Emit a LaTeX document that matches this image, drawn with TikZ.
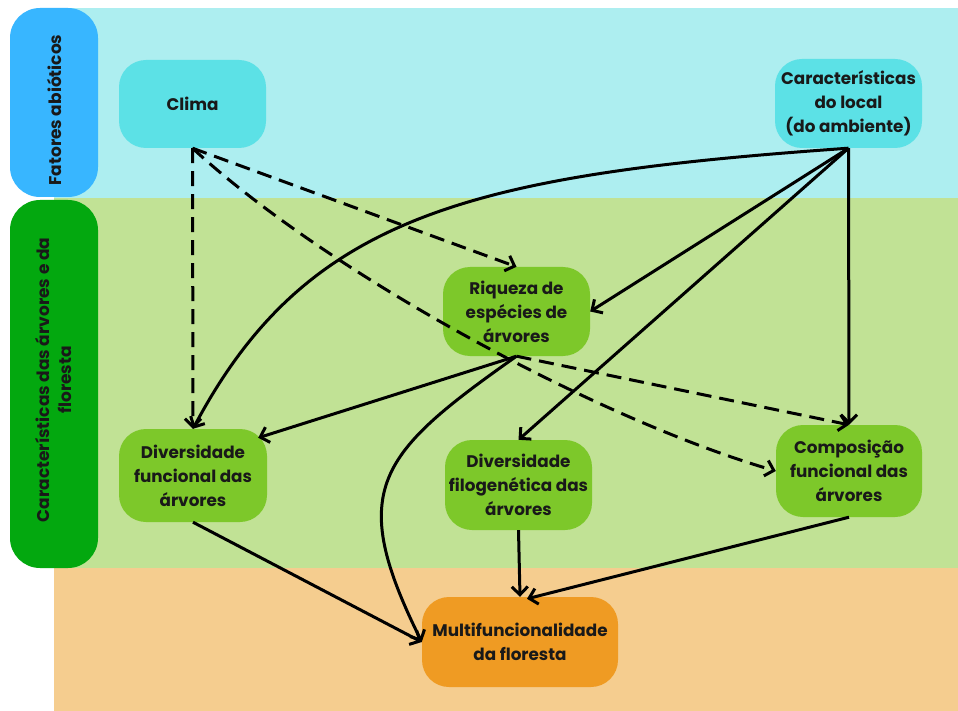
\documentclass[tikz,border=0pt]{standalone}
\usepackage{fontspec}
\setmainfont{Poppins}
\usetikzlibrary{arrows.meta,calc}
\definecolor{bandcyan}{HTML}{ADEEF0}
\definecolor{bandgreen}{HTML}{C1E295}
\definecolor{bandorange}{HTML}{F5CD8F}
\definecolor{pillblue}{HTML}{38B6FF}
\definecolor{pillgreen}{HTML}{03A80F}
\definecolor{nodecyan}{HTML}{5CE1E6}
\definecolor{nodegreen}{HTML}{7DC82A}
\definecolor{nodeorange}{HTML}{EF9B23}
\tikzset{
  box/.style={rounded corners=27pt, inner sep=0pt, align=center,
    font=\fontsize{16.8}{24}\selectfont\bfseries, text=black!90},
  cbox/.style={box, fill=nodecyan},
  gbox/.style={box, fill=nodegreen},
  obox/.style={box, fill=nodeorange},
  pill/.style={rounded corners=30pt},
  pilltext/.style={rotate=90, align=center, font=\fontsize{17}{22}\selectfont\bfseries, text=black!90},
  conn/.style={line width=3pt, -{Straight Barb[length=8pt,width=16pt]}},
  dconn/.style={conn, dash pattern=on 15pt off 8pt},
}
\begin{document}
\begin{tikzpicture}[x=1pt,y=-1pt]
\useasboundingbox (0,0) rectangle (958,711);
\fill[white] (0,0) rectangle (958,711);
% bands
\fill[bandcyan] (54,8) rectangle (958,198);
\fill[bandgreen] (54,198) rectangle (958,568);
\fill[bandorange] (54,568) rectangle (958,711);
% side pills
\fill[pillblue, pill] (10,8) rectangle (98,197);
\fill[pillgreen, pill] (10,200) rectangle (98,568);
\node[pilltext] (labA) at (54,110) {Fatores abióticos};
\node[pilltext] (labB) at (54,380) {Características das árvores e da\\floresta};
% nodes
\node[cbox, minimum width=147pt, minimum height=88pt] (clima) at (192.5,104) {Clima};
\node[cbox, minimum width=147pt, minimum height=89pt] (loc) at (848.5,103.5) {Características\\do local\\(do ambiente)};
\node[gbox, minimum width=147pt, minimum height=89pt] (riq) at (516.5,311.5) {Riqueza de\\espécies de\\árvores};
\node[gbox, minimum width=148pt, minimum height=93pt] (divf) at (193,475.5) {Diversidade\\funcional das\\árvores};
\node[gbox, minimum width=147pt, minimum height=90pt] (filo) at (518.5,485) {Diversidade\\filogenética das\\árvores};
\node[gbox, minimum width=146pt, minimum height=92pt] (comp) at (849,471) {Composição\\funcional das\\árvores};
\node[obox, minimum width=196pt, minimum height=90pt] (multi) at (520,642) {Multifuncionalidade\\da floresta};
% dashed connectors from Clima
\draw[dconn] (clima.south) -- (divf.north);
\draw[dconn] (clima.south) -- (riq.north);
\draw[dconn] (clima.south) .. controls (330,275) and (600,420) .. (comp.west);
\draw[dconn] (riq.south) -- (comp.north);
% solid connectors from local
\draw[conn] (loc.south) .. controls (467,175) and (306,216) .. (divf.north);
\draw[conn] (loc.south) -- (riq.east);
\draw[conn] (loc.south) -- (filo.north);
\draw[conn] (loc.south) -- (comp.north);
% from riqueza
\draw[conn] (riq.south) -- ($(divf.north east)+(-9,9)$);
\draw[conn] (riq.south) .. controls (378,454) and (346,489) .. (multi.west);
% to multi
\draw[conn] (divf.south) -- (multi.west);
\draw[conn] (filo.south) -- (multi.north);
\draw[conn] (comp.south) -- ($(multi.north)+(7,2)$);
\end{tikzpicture}
\end{document}
